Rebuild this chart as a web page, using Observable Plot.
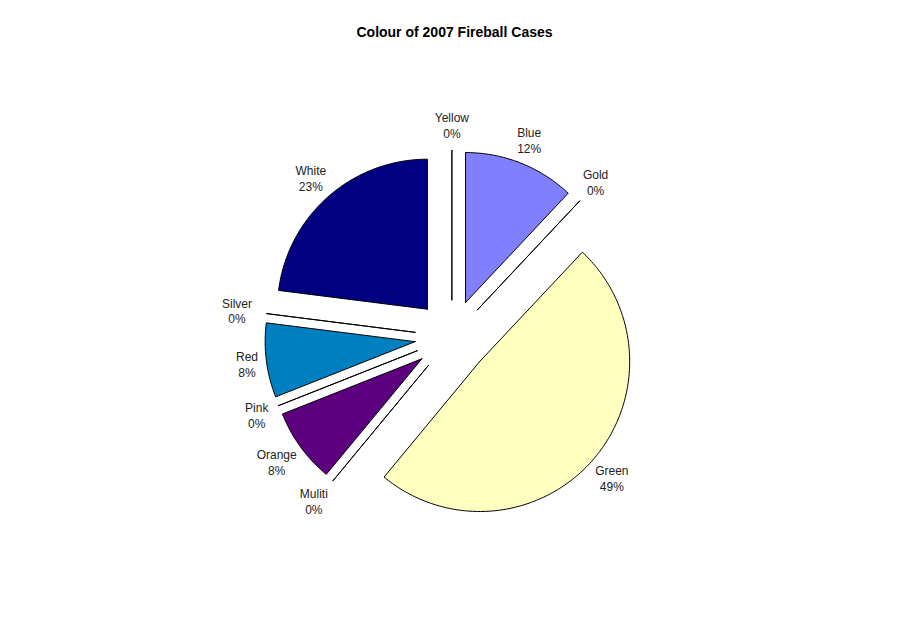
<!DOCTYPE html>
<html>
<head>
<meta charset="utf-8">
<script src="https://cdn.jsdelivr.net/npm/d3@7"></script>
<script src="https://cdn.jsdelivr.net/npm/@observablehq/plot@0.6"></script>
<style>
  html, body { margin: 0; padding: 0; background: #fff; }
  #chart svg { display: block; font-family: "Liberation Sans", Arial, sans-serif; }
</style>
</head>
<body>
<div id="chart"></div>
<script>
// ---- data ----
const title = "Colour of 2007 Fireball Cases";
const names = ["Yellow", "Blue", "Gold", "Green", "Muliti", "Orange", "Pink", "Red", "Silver", "White"];
const values = [0, 12, 0, 49, 0, 8, 0, 8, 0, 23];
const labels = ["0%", "12%", "0%", "49%", "0%", "8%", "0%", "8%", "0%", "23%"];
const colors = ["#FFFF00", "#8080FF", "#FFCC00", "#FFFFC0", "#808080", "#5C0080", "#FF80C0", "#0080C0", "#C0C0C0", "#000080"];

// ---- geometry (units of pie radius) ----
const W = 908, H = 623;
const pxPerUnit = 150;
const cx = 451.4, cy = 336.5;           // pie centre in the frame
const explode = 0.247;                   // explosion distance
const labelR = 1.31;                     // label box offset radius
const total = d3.sum(values);

const slicePoints = [];
const labelData = [];
let cum = 0;
names.forEach((name, i) => {
  const a0 = cum / total * 2 * Math.PI;
  cum += values[i];
  const a1 = cum / total * 2 * Math.PI;
  const mid = (a0 + a1) / 2;
  const ox = explode * Math.sin(mid), oy = explode * Math.cos(mid);
  const pts = [{name, color: colors[i], x: ox, y: oy}];
  const n = Math.max(1, Math.ceil((a1 - a0) / (Math.PI / 180)));
  for (let k = 0; k <= n; k++) {
    const a = a0 + (a1 - a0) * k / n;
    pts.push({name, color: colors[i], x: ox + Math.sin(a), y: oy + Math.cos(a)});
  }
  pts.push({name, color: colors[i], x: ox, y: oy});
  slicePoints.push(...pts);
  // label: text box placed just outside a circle around the centre
  const dx = Math.sin(mid), dy = Math.cos(mid);
  const wpx = Math.max(name.length, labels[i].length) * 6.7;
  labelData.push({
    text: name + "\n" + labels[i],
    x: dx * labelR + dx * (wpx / 2) / pxPerUnit,
    y: dy * labelR + dy * 16 / pxPerUnit
  });
});

const chart = Plot.plot({
  width: W,
  height: H,
  margin: 0,
  x: {domain: [-cx / pxPerUnit, (W - cx) / pxPerUnit], axis: null},
  y: {domain: [-(H - cy) / pxPerUnit, cy / pxPerUnit], axis: null},
  color: {type: "identity"},
  marks: [
    Plot.line(slicePoints, {
      x: "x", y: "y", z: "name",
      fill: "color",
      stroke: "#000",
      strokeWidth: 1,
      strokeLinejoin: "miter"
    }),
    Plot.text(labelData, {
      x: "x", y: "y", text: "text",
      fontSize: 12, lineHeight: 1.33,
      fill: "#222",
      fontFamily: "Liberation Sans, Arial, sans-serif"
    }),
    Plot.text([title], {
      frameAnchor: "top", dy: 27,
      fontSize: 14, fontWeight: "bold", fill: "#000",
      fontFamily: "Liberation Sans, Arial, sans-serif"
    })
  ]
});
document.getElementById("chart").appendChild(chart);
</script>
</body>
</html>
